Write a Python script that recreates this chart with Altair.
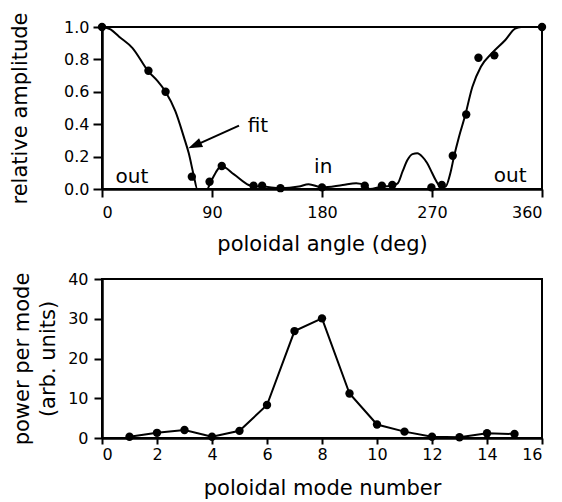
import altair as alt
import pandas as pd

# --- top panel: measured amplitudes ---
pt_angle = [0, 38, 52, 73.5, 88, 98, 124, 131, 146, 180, 215, 229, 237.5, 269.5, 278, 287, 298, 308, 321, 360]
pt_amp = [1.0, 0.73, 0.60, 0.076, 0.045, 0.142, 0.02, 0.02, 0.005, 0.01, 0.02, 0.02, 0.025, 0.01, 0.025, 0.205, 0.46, 0.81, 0.825, 1.0]

# --- top panel: fit curve ---
fit_angle = [0, 7, 14, 25, 38, 45, 52, 60, 67, 71, 75, 78, 86, 89, 98, 108, 120, 125, 131, 146,
             161, 169, 180, 197, 208, 216, 219, 229, 238, 242, 246, 250, 254, 258, 262, 266, 270,
             273, 277, 281, 285, 288, 292, 297, 303, 310, 319, 330, 338, 343, 360]
fit_amp = [1.0, 0.985, 0.94, 0.87, 0.725, 0.67, 0.60, 0.48, 0.32, 0.22, 0.086, 0.0, 0.0, 0.045, 0.14, 0.09, 0.025, 0.015, 0.015, 0.005,
           0.015, 0.03, 0.01, 0.025, 0.035, 0.02, 0.0, 0.015, 0.02, 0.035, 0.11, 0.18, 0.215, 0.22, 0.2, 0.16, 0.1,
           0.055, 0.015, 0.014, 0.097, 0.2, 0.32, 0.45, 0.63, 0.755, 0.838, 0.92, 0.99, 1.0, 1.0]

# --- top panel annotations ---
ann_text = ["fit", "out", "in", "out"]
ann_angle = [127.6, 24.5, 181, 334]
ann_amp = [0.352, 0.037, 0.097, 0.045]

# --- bottom panel: power per mode ---
mode = [1, 2, 3, 4, 5, 6, 7, 8, 9, 10, 11, 12, 13, 14, 15]
power = [0.3, 1.3, 2.0, 0.3, 1.8, 8.3, 26.9, 30.1, 11.2, 3.4, 1.6, 0.3, 0.2, 1.2, 1.0]

x_ticks_top = [0, 90, 180, 270, 360]
y_ticks_top = [0.0, 0.2, 0.4, 0.6, 0.8, 1.0]
x_ticks_bot = [0, 2, 4, 6, 8, 10, 12, 14, 16]
y_ticks_bot = [0, 10, 20, 30, 40]

FONT = "DejaVu Sans"

pts = pd.DataFrame({"angle": pt_angle, "amp": pt_amp})
fit = pd.DataFrame({"angle": fit_angle, "amp": fit_amp})
ann = pd.DataFrame({"angle": ann_angle, "amp": ann_amp, "txt": ann_text})
arrow = pd.DataFrame({"angle": [112.1], "amp": [0.391], "angle2": [74.0], "amp2": [0.262]})
head = pd.DataFrame({"angle": [70.6], "amp": [0.251]})
pw = pd.DataFrame({"mode": mode, "power": power})

xt = alt.X("angle:Q", scale=alt.Scale(domain=[0, 360], nice=False, zero=False),
           axis=alt.Axis(values=x_ticks_top, title="poloidal angle (deg)", tickSize=8,
                         labelPadding=7, titlePadding=13, labelOverlap=False))
yt = alt.Y("amp:Q", scale=alt.Scale(domain=[0, 1], nice=False),
           axis=alt.Axis(values=y_ticks_top, format=".1f", title="relative amplitude",
                         tickSize=9, labelPadding=4, titlePadding=33,
                         labelOverlap=False, labelBound=False, labelFlush=False))

fit_line = alt.Chart(fit).mark_line(color="black", strokeWidth=2, interpolate="monotone").encode(x=xt, y=yt)
dots = alt.Chart(pts).mark_circle(color="black", size=70, opacity=1).encode(x=xt, y=yt)
arrow_line = alt.Chart(arrow).mark_rule(color="black", strokeWidth=2).encode(
    x=xt, y=yt, x2="angle2:Q", y2="amp2:Q")
arrow_head = alt.Chart(head).mark_point(shape="M0,0L2,-0.7L2,0.7Z", filled=True, color="black",
                                        opacity=1, size=196, angle=336).encode(x=xt, y=yt)
texts = alt.Chart(ann).mark_text(font=FONT, fontSize=20, color="black", align="center",
                                 baseline="alphabetic").encode(x=xt, y=yt, text="txt:N")

top = alt.layer(fit_line, dots, arrow_line, arrow_head, texts).properties(width=440, height=162)

xb = alt.X("mode:Q", scale=alt.Scale(domain=[0, 16], nice=False),
           axis=alt.Axis(values=x_ticks_bot, title="poloidal mode number", tickSize=6,
                         labelPadding=2, titlePadding=15, labelOverlap=False))
yb = alt.Y("power:Q", scale=alt.Scale(domain=[0, 40], nice=False),
           axis=alt.Axis(values=y_ticks_bot, title=["power per mode", "(arb. units)"],
                         tickSize=8, labelPadding=6, titlePadding=9, titleLineHeight=26,
                         labelOverlap=False))

bot_line = alt.Chart(pw).mark_line(color="black", strokeWidth=2).encode(x=xb, y=yb)
bot_dots = alt.Chart(pw).mark_circle(color="black", size=70, opacity=1).encode(x=xb, y=yb)
bottom = alt.layer(bot_line, bot_dots).properties(width=440, height=159)

chart = alt.vconcat(top, bottom, spacing=15).properties(
    padding={"left": 8, "top": 10, "right": 5, "bottom": 5},
    background="white",
).configure_view(stroke="black", strokeWidth=2).configure_axis(
    domainColor="black", domainWidth=2.5, tickColor="black", tickWidth=2,
    labelColor="black", labelFont=FONT, labelFontSize=16, labelOverlap=False,
    titleColor="black", titleFont=FONT, titleFontSize=21, titleFontWeight="normal",
    grid=False,
)

chart.save("out.html", embed_options={"renderer": "svg", "actions": False})
